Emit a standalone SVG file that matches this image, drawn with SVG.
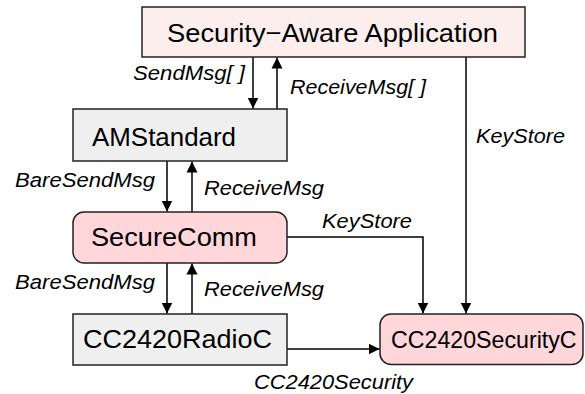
<svg xmlns="http://www.w3.org/2000/svg" width="585" height="394" viewBox="0 0 585 394">
  <defs>
    <marker id="arr" viewBox="0 0 11 12" refX="11" refY="6" markerWidth="11" markerHeight="12" markerUnits="userSpaceOnUse" orient="auto">
      <path d="M0,0.5 L11,6 L0,11.5 Z" fill="#000"/>
    </marker>
    <style>
      .box { stroke: #222; stroke-width: 1.5; }
      .gray { fill: #efefef; }
      .pink { fill: #ffd6da; }
      .light { fill: #fdeeee; }
      .nt { font-family: "Liberation Sans", Arial, sans-serif; font-size: 26px; fill: #000; }
      .lb { font-family: "Liberation Sans", Arial, sans-serif; font-size: 20px; font-style: italic; fill: #000; }
      .edge { fill: none; stroke: #000; stroke-width: 1.5; marker-end: url(#arr); }
    </style>
  </defs>
  <rect width="585" height="394" fill="#fff"/>
  <g id="connectors">
    <path class="edge" d="M253,57 V108.5"/>
    <path class="edge" d="M277,109 V57.5"/>
    <path class="edge" d="M167,161 V211.5"/>
    <path class="edge" d="M192,212 V161.5"/>
    <path class="edge" d="M167,263 V313.5"/>
    <path class="edge" d="M192,314 V263.5"/>
    <path class="edge" d="M287,237 H423 V313.5"/>
    <path class="edge" d="M466,57 V313.5"/>
    <path class="edge" d="M287,349 H379.5"/>
    <text class="lb" x="133" y="80" textLength="112" lengthAdjust="spacingAndGlyphs">SendMsg[ ]</text>
    <text class="lb" x="290" y="94" textLength="136" lengthAdjust="spacingAndGlyphs">ReceiveMsg[ ]</text>
    <text class="lb" x="476" y="143" textLength="89" lengthAdjust="spacingAndGlyphs">KeyStore</text>
    <text class="lb" x="15" y="187" textLength="140" lengthAdjust="spacingAndGlyphs">BareSendMsg</text>
    <text class="lb" x="204" y="195" textLength="120" lengthAdjust="spacingAndGlyphs">ReceiveMsg</text>
    <text class="lb" x="322" y="228" textLength="90" lengthAdjust="spacingAndGlyphs">KeyStore</text>
    <text class="lb" x="15" y="289" textLength="140" lengthAdjust="spacingAndGlyphs">BareSendMsg</text>
    <text class="lb" x="204" y="296" textLength="120" lengthAdjust="spacingAndGlyphs">ReceiveMsg</text>
    <text class="lb" x="254" y="389" textLength="159" lengthAdjust="spacingAndGlyphs">CC2420Security</text>
  </g>
  <g id="app">
    <rect class="box light" x="142" y="7" width="383" height="50"/>
    <text class="nt" x="167" y="42" textLength="331" lengthAdjust="spacingAndGlyphs">Security−Aware Application</text>
  </g>
  <g id="amstandard">
    <rect class="box gray" x="73" y="109" width="214" height="52"/>
    <text class="nt" x="92" y="146" textLength="144" lengthAdjust="spacingAndGlyphs">AMStandard</text>
  </g>
  <g id="securecomm">
    <rect class="box pink" x="73" y="212" width="214" height="51" rx="11"/>
    <text class="nt" x="91" y="246" textLength="166" lengthAdjust="spacingAndGlyphs">SecureComm</text>
  </g>
  <g id="radio">
    <rect class="box gray" x="73" y="314" width="214" height="51"/>
    <text class="nt" x="83" y="348" textLength="189" lengthAdjust="spacingAndGlyphs">CC2420RadioC</text>
  </g>
  <g id="security">
    <rect class="box pink" x="380" y="314" width="203" height="50.5" rx="11"/>
    <text class="nt" x="391" y="348" style="font-size:23.2px">CC2420SecurityC</text>
  </g>
</svg>
